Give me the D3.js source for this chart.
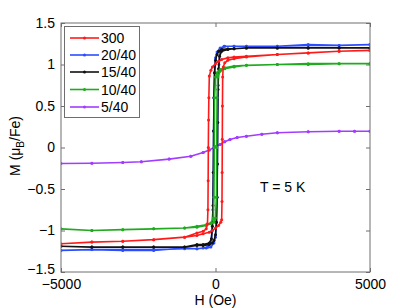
<!DOCTYPE html>
<html><head><meta charset="utf-8">
<script src="https://cdn.jsdelivr.net/npm/d3@7"></script>
<style>body{margin:0;background:#fff;}svg{display:block;font-family:"Liberation Sans",Arial,sans-serif;}</style>
</head><body>
<div id="chart"></div>
<script>
// ---- data (H in Oe, M in muB/Fe), loops: descending then ascending ----
const xTicks = [-5000, 0, 5000];
const yTicks = [-1.5, -1, -0.5, 0, 0.5, 1, 1.5];
const seriesNames = ["300", "20/40", "15/40", "10/40", "5/40"];
const seriesColors = ["#ff1a1a", "#2b4dff", "#111111", "#1faa1f", "#a23cff"];

const loop300 = [
  [5000,1.17],[4000,1.16],[3000,1.14],[2000,1.12],[1000,1.10],[600,1.09],[400,1.08],[200,1.06],[100,1.04],[0,1.01],
  [-100,0.97],[-150,0.93],[-200,0.86],[-215,0.6],[-225,0.33],[-232,0.0],[-238,-0.4],[-245,-0.75],[-260,-0.92],
  [-300,-0.98],[-400,-1.01],[-600,-1.03],[-1000,-1.08],[-2000,-1.11],[-3000,-1.13],[-4000,-1.14],[-5000,-1.16],
  [-4000,-1.14],[-3000,-1.13],[-2000,-1.11],[-1000,-1.08],[-600,-1.06],[-400,-1.04],[-200,-1.02],[-100,-1.0],[0,-0.97],
  [100,-0.94],[170,-0.9],[200,-0.87],[210,-0.65],[215,-0.3],[220,0.1],[225,0.5],[232,0.85],[250,0.97],[300,1.02],
  [400,1.05],[600,1.07],[1000,1.09],[2000,1.12],[3000,1.14],[4000,1.16],[5000,1.17]
];
const loop20_40 = [
  [5000,1.24],[4000,1.23],[3000,1.24],[2000,1.22],[1000,1.22],[600,1.22],[300,1.22],[150,1.2],[50,1.15],[0,1.08],
  [-30,0.9],[-50,0.6],[-60,0.2],[-70,-0.3],[-85,-0.75],[-110,-1.0],[-150,-1.15],[-250,-1.2],[-400,-1.21],[-600,-1.22],
  [-1000,-1.21],[-2000,-1.24],[-3000,-1.24],[-4000,-1.23],[-5000,-1.24],
  [-4000,-1.23],[-3000,-1.23],[-2000,-1.23],[-1000,-1.22],[-600,-1.22],[-300,-1.21],[-150,-1.2],[-50,-1.15],[0,-1.08],
  [30,-0.9],[50,-0.6],[60,-0.2],[70,0.3],[85,0.75],[110,1.0],[150,1.15],[275,1.22],[600,1.22],[1000,1.22],
  [2000,1.22],[3000,1.23],[4000,1.23],[5000,1.24]
];
const loop15_40 = [
  [5000,1.20],[4000,1.20],[3000,1.20],[2000,1.20],[1000,1.20],[600,1.19],[400,1.19],[200,1.18],[100,1.16],[50,1.12],[0,1.05],
  [-30,0.9],[-50,0.6],[-60,0.2],[-70,-0.3],[-80,-0.7],[-100,-0.95],[-130,-1.1],[-200,-1.15],[-400,-1.17],[-600,-1.17],
  [-1000,-1.20],[-2000,-1.20],[-3000,-1.20],[-4000,-1.20],[-5000,-1.19],
  [-4000,-1.20],[-3000,-1.20],[-2000,-1.20],[-1000,-1.20],[-600,-1.18],[-400,-1.18],[-200,-1.17],[-100,-1.15],[-50,-1.12],[0,-1.05],
  [30,-0.9],[50,-0.6],[60,-0.2],[70,0.3],[80,0.7],[100,0.95],[130,1.1],[200,1.16],[400,1.18],[600,1.19],
  [1000,1.20],[2000,1.20],[3000,1.20],[4000,1.20],[5000,1.20]
];
const loop10_40 = [
  [5000,1.01],[4000,1.01],[3000,1.0],[2000,1.0],[1000,0.99],[600,0.98],[300,0.96],[150,0.94],[50,0.9],[0,0.85],
  [-30,0.6],[-40,0.0],[-50,-0.6],[-70,-0.85],[-150,-0.91],[-300,-0.93],[-600,-0.95],[-1000,-0.97],[-2000,-0.98],
  [-3000,-0.99],[-4000,-1.0],[-5000,-0.98],
  [-4000,-1.0],[-3000,-0.99],[-2000,-0.98],[-1000,-0.97],[-600,-0.96],[-300,-0.94],[-150,-0.92],[-50,-0.9],[0,-0.85],
  [30,-0.6],[40,0.0],[50,0.6],[70,0.85],[150,0.92],[300,0.95],[600,0.97],[1000,0.99],[2000,1.0],[3000,1.01],
  [4000,1.01],[5000,1.01]
];
const loop5_40 = [
  [5000,0.196],[4500,0.196],[4000,0.195],[3000,0.19],[2000,0.177],[1500,0.16],[1000,0.136],[700,0.12],[470,0.096],
  [300,0.07],[150,0.036],[0,0.01],[-200,-0.03],[-400,-0.06],[-800,-0.105],[-1500,-0.14],[-2400,-0.172],
  [-3000,-0.18],[-4000,-0.19],[-5000,-0.193],
  [-4000,-0.19],[-3000,-0.18],[-2400,-0.172],[-1500,-0.14],[-800,-0.105],[-400,-0.06],[-200,-0.03],[0,0.01],
  [150,0.036],[300,0.07],[470,0.096],[700,0.12],[1000,0.136],[1500,0.16],[2000,0.177],[3000,0.19],[4000,0.195],
  [4500,0.196],[5000,0.196]
];
const allLoops = [loop300, loop20_40, loop15_40, loop10_40, loop5_40];
const drawOrder = [4, 1, 2, 3, 0];

// ---- layout ----
const W = 409, H = 308;
const m = {left: 61, right: 39, top: 23, bottom: 36};
const svg = d3.select("#chart").append("svg").attr("width", W).attr("height", H);

const x = d3.scaleLinear().domain([-5000, 5000]).range([m.left, W - m.right]);
const y = d3.scaleLinear().domain([-1.5, 1.5]).range([H - m.bottom, m.top]);

const axisColor = "#6e6e6e";
const tickLen = 4;

// clip
svg.append("defs").append("clipPath").attr("id", "clip")
  .append("rect").attr("x", m.left).attr("y", m.top)
  .attr("width", W - m.left - m.right).attr("height", H - m.top - m.bottom);

// axes (Matlab style, ticks inside, box)
function styleAxis(g) {
  g.select(".domain").remove();
  g.selectAll(".tick line").attr("stroke", axisColor);
  g.selectAll(".tick text").attr("fill", "#000").style("font-size", "14px");
}
const fmt = d => (d < 0 ? "\u2212" : "") + Math.abs(d);

svg.append("g").attr("transform", `translate(0,${H - m.bottom})`)
  .call(d3.axisBottom(x).tickValues(xTicks).tickSize(-tickLen).tickPadding(7).tickFormat(fmt))
  .call(styleAxis);
svg.append("g").attr("transform", `translate(0,${m.top})`)
  .call(d3.axisTop(x).tickValues(xTicks).tickSize(-tickLen).tickFormat(""))
  .call(styleAxis);
const yAxisG = svg.append("g").attr("transform", `translate(${m.left},0)`)
  .call(d3.axisLeft(y).tickValues(yTicks).tickSize(-tickLen).tickPadding(6).tickFormat(fmt))
  .call(styleAxis);
// nudge the lowest y label up a little so it clears the x label below it
yAxisG.selectAll(".tick text").filter(d => d === -1.5).attr("y", -3);
svg.append("g").attr("transform", `translate(${W - m.right},0)`)
  .call(d3.axisRight(y).tickValues(yTicks).tickSize(-tickLen).tickFormat(""))
  .call(styleAxis);

// series
const line = d3.line().x(d => x(d[0])).y(d => y(d[1]));
const plot = svg.append("g").attr("clip-path", "url(#clip)");
drawOrder.forEach(i => {
  const g = plot.append("g");
  g.append("path").datum(allLoops[i]).attr("d", line)
    .attr("fill", "none").attr("stroke", seriesColors[i])
    .attr("stroke-width", 1.6).attr("stroke-linejoin", "round");
  g.selectAll("circle").data(allLoops[i]).join("circle")
    .attr("cx", d => x(d[0])).attr("cy", d => y(d[1])).attr("r", 1.5)
    .attr("fill", seriesColors[i]);
});

// box
svg.append("rect").attr("x", m.left).attr("y", m.top)
  .attr("width", W - m.left - m.right).attr("height", H - m.top - m.bottom)
  .attr("fill", "none").attr("stroke", axisColor).attr("stroke-width", 1);

// axis labels
svg.append("text").attr("x", x(0)).attr("y", 305).attr("text-anchor", "middle")
  .style("font-size", "14px").text("H (Oe)");
const yl = svg.append("text").attr("transform", "translate(19.5,146) rotate(-90)")
  .attr("text-anchor", "middle").style("font-size", "14px");
yl.append("tspan").text("M (\u03BC");
yl.append("tspan").attr("dy", 4).style("font-size", "10px").text("B");
yl.append("tspan").attr("dy", -4).text("/Fe)");

// annotation
svg.append("text").attr("x", 260).attr("y", 192).style("font-size", "14px").text("T = 5 K");

// legend
const lg = svg.append("g");
lg.append("rect").attr("x", 64.5).attr("y", 26.5).attr("width", 75).attr("height", 91)
  .attr("fill", "#fff").attr("stroke", axisColor);
const legY = [38, 55, 72, 89.5, 107];
seriesNames.forEach((nm, i) => {
  lg.append("line").attr("x1", 70).attr("x2", 99).attr("y1", legY[i]).attr("y2", legY[i])
    .attr("stroke", seriesColors[i]).attr("stroke-width", 1.6);
  lg.append("circle").attr("cx", 84.5).attr("cy", legY[i]).attr("r", 1.5).attr("fill", seriesColors[i]);
  lg.append("text").attr("x", 101).attr("y", legY[i] + 5).style("font-size", "14px").text(nm);
});
</script>
</body></html>
